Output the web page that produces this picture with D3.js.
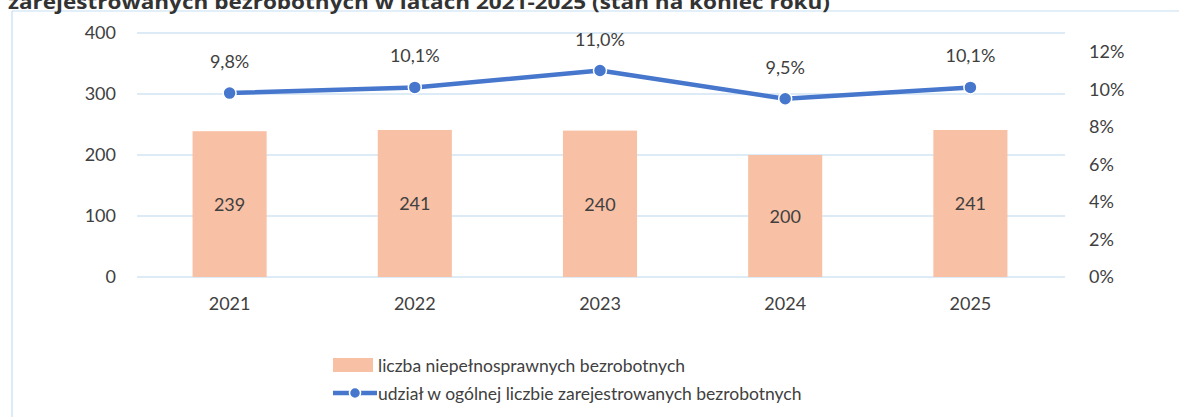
<!DOCTYPE html>
<html><head><meta charset="utf-8">
<script src="https://cdn.jsdelivr.net/npm/d3@7"></script>
<style>
html,body{margin:0;padding:0;background:#fff;}
svg{display:block;font-family:Lato,"Open Sans",sans-serif;}
</style></head>
<body>
<svg id="c" width="1179" height="417"></svg>
<script>
const titleText = "zarejestrowanych bezrobotnych w latach 2021-2025 (stan na koniec roku)";
const years = ["2021","2022","2023","2024","2025"];
const counts = [239, 241, 240, 200, 241];
const shares = [9.8, 10.1, 11.0, 9.5, 10.1];
const leftTicks = [0, 100, 200, 300, 400];
const rightTicks = [0, 2, 4, 6, 8, 10, 12];
const legendLabels = ["liczba niepełnosprawnych bezrobotnych", "udział w ogólnej liczbie zarejestrowanych bezrobotnych"];

const svg = d3.select("#c");
const textCol = "#404040", gridCol = "#bcd8ef", barCol = "#f8c0a4", lineCol = "#4677cc";
const fs = 18;

// frame
svg.append("line").attr("x1",12).attr("x2",12).attr("y1",11).attr("y2",417).attr("stroke","#c6def2").attr("stroke-width",1.2);
svg.append("line").attr("x1",12).attr("x2",1179).attr("y1",11).attr("y2",11).attr("stroke","#c6def2").attr("stroke-width",1.2);

// title (cut off at top, as in the source)
svg.append("text").attr("x",8).attr("y",9).attr("font-family","'Open Sans',sans-serif").attr("font-weight","bold")
  .attr("font-size",20).attr("fill","#333").attr("textLength",822).attr("lengthAdjust","spacingAndGlyphs").text(titleText);

const x = d3.scaleBand().domain(years).range([137, 1063]).paddingInner(0.6).paddingOuter(0.3);
const yL = d3.scaleLinear().domain([0, 400]).range([277, 33]);
const yR = d3.scaleLinear().domain([0, 13]).range([277, 33]);

// grid
svg.append("g").selectAll("line").data(leftTicks).join("line")
  .attr("x1",137).attr("x2",1065).attr("y1",d=>yL(d)).attr("y2",d=>yL(d))
  .attr("stroke",gridCol).attr("stroke-width",1.2);

// left axis
const gl = svg.append("g").attr("transform","translate(116,0)").call(d3.axisLeft(yL).tickValues(leftTicks).tickSize(0).tickPadding(0));
gl.select(".domain").remove();
gl.selectAll("text").attr("font-size",fs).attr("fill",textCol).attr("font-family","Lato,sans-serif");

// right axis
const gr = svg.append("g").attr("transform","translate(1089,0)").call(d3.axisRight(yR).tickValues(rightTicks).tickSize(0).tickPadding(0).tickFormat(d=>d+"%"));
gr.select(".domain").remove();
gr.selectAll("text").attr("font-size",fs).attr("fill",textCol).attr("font-family","Lato,sans-serif");

// x axis
const gx = svg.append("g").attr("transform","translate(0,297)").call(d3.axisBottom(x).tickSize(0).tickPadding(0));
gx.select(".domain").remove();
gx.selectAll("text").attr("font-size",fs).attr("fill",textCol).attr("font-family","Lato,sans-serif");

// bars
svg.append("g").selectAll("rect").data(counts).join("rect")
  .attr("x",(d,i)=>x(years[i])).attr("width",x.bandwidth())
  .attr("y",d=>yL(d)).attr("height",d=>yL(0)-yL(d)).attr("fill",barCol);
svg.append("g").selectAll("text").data(counts).join("text")
  .attr("x",(d,i)=>x(years[i])+x.bandwidth()/2).attr("y",d=>(yL(d)+yL(0))/2)
  .attr("text-anchor","middle").attr("dominant-baseline","central")
  .attr("font-size",fs).attr("fill",textCol).text(d=>d);

// line
const cx = (d,i)=>x(years[i])+x.bandwidth()/2;
const line = d3.line().x(cx).y(d=>yR(d));
svg.append("path").datum(shares).attr("d",line).attr("fill","none").attr("stroke",lineCol).attr("stroke-width",4.5).attr("stroke-linejoin","round");
svg.append("g").selectAll("circle").data(shares).join("circle")
  .attr("cx",cx).attr("cy",d=>yR(d)).attr("r",6.5).attr("fill",lineCol).attr("stroke","#fff").attr("stroke-width",1.5);
svg.append("g").selectAll("text").data(shares).join("text")
  .attr("x",cx).attr("y",d=>yR(d)-32)
  .attr("text-anchor","middle").attr("dominant-baseline","central")
  .attr("font-size",fs).attr("fill",textCol).text(d=>d.toFixed(1).replace(".",",")+"%");

// legend
const lg = svg.append("g");
lg.append("rect").attr("x",333).attr("y",358).attr("width",40).attr("height",14).attr("fill",barCol);
lg.append("text").attr("x",378).attr("y",365).attr("dominant-baseline","central").attr("font-size",17.5).attr("fill",textCol).text(legendLabels[0]);
lg.append("line").attr("x1",333).attr("x2",377).attr("y1",393).attr("y2",393).attr("stroke",lineCol).attr("stroke-width",4.5);
lg.append("circle").attr("cx",355).attr("cy",393).attr("r",5.5).attr("fill",lineCol).attr("stroke","#fff").attr("stroke-width",1.5);
lg.append("text").attr("x",378).attr("y",393).attr("dominant-baseline","central").attr("font-size",17.5).attr("fill",textCol).text(legendLabels[1]);
</script>
</body></html>
